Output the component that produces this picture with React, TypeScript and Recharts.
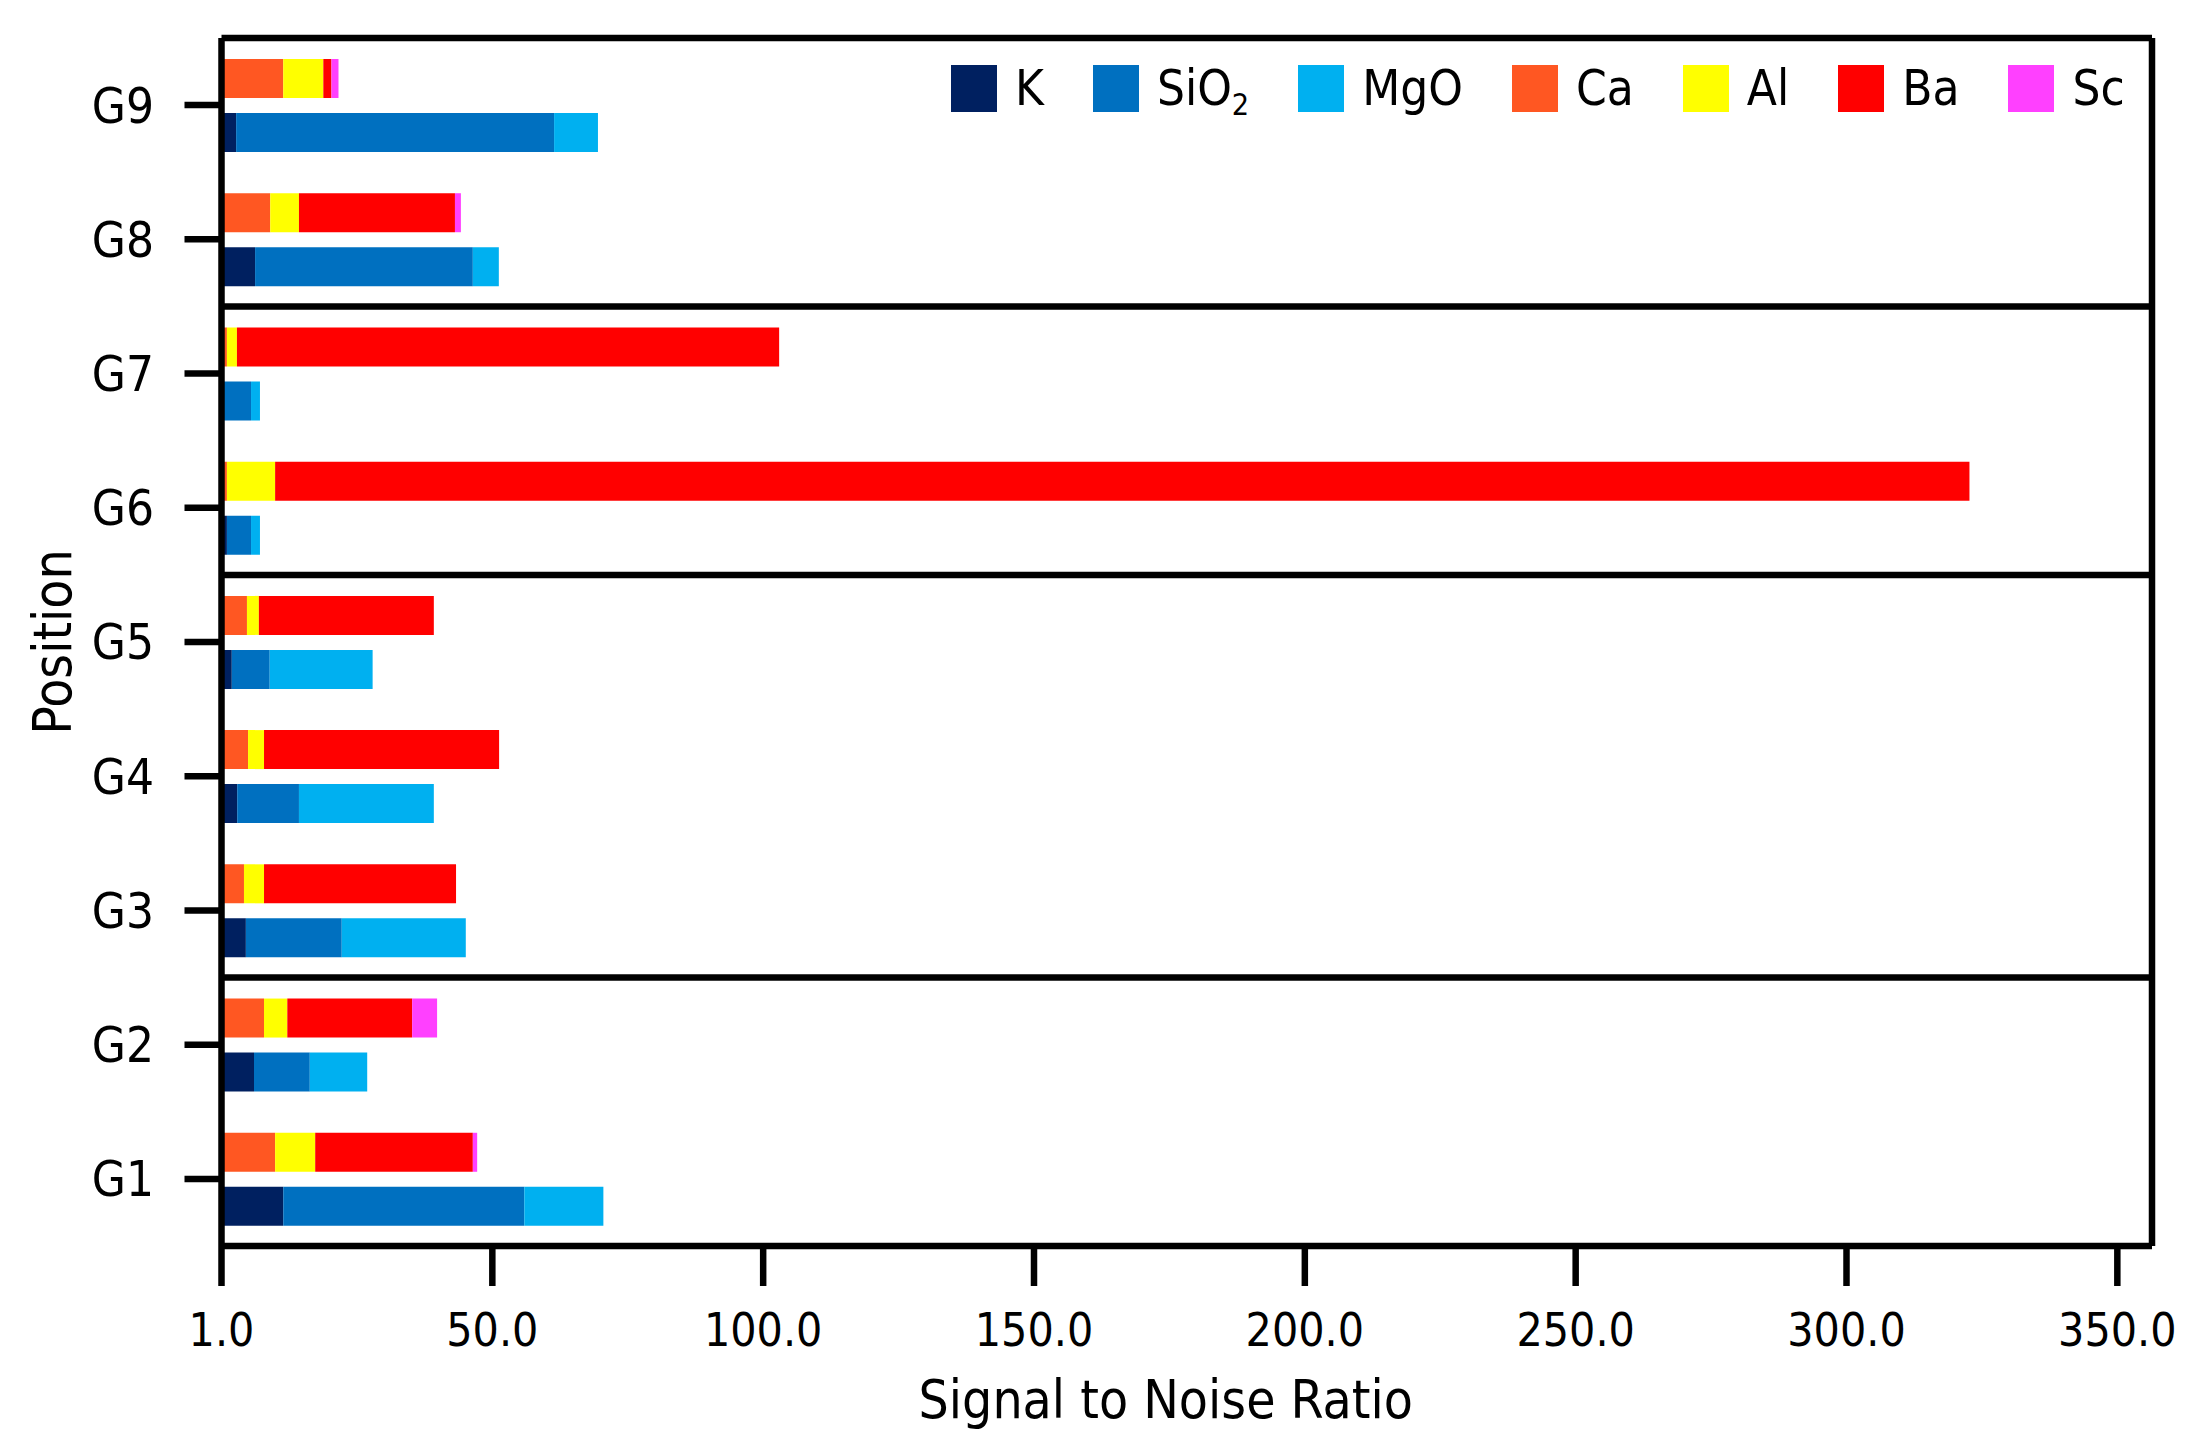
import { Bar, BarChart, CartesianGrid, Legend, XAxis, YAxis } from "recharts";

// positions, bottom to top
const positions = ["G1", "G2", "G3", "G4", "G5", "G6", "G7", "G8", "G9"];

// lower bar of each position
const kValues = [11.4, 6.0, 4.5, 2.9, 1.9, 1.0, 0.4, 6.2, 2.7];
const sio2Values = [44.5, 10.3, 17.7, 11.4, 7.0, 4.45, 5.05, 40.2, 58.7];
const mgoValues = [14.6, 10.6, 22.9, 24.9, 19.0, 1.65, 1.65, 4.8, 8.1];

// upper bar of each position
const caValues = [9.9, 7.85, 4.15, 4.9, 4.7, 1.0, 1.0, 9.0, 11.4];
const alValues = [7.4, 4.3, 3.7, 2.95, 2.2, 8.9, 1.85, 5.3, 7.4];
const baValues = [29.1, 23.05, 35.45, 43.4, 32.3, 312.8, 100.1, 28.8, 1.5];
const scValues = [0.8, 4.6, 0, 0, 0, 0, 0, 1.1, 1.3];

const xTicks = [0, 50, 100, 150, 200, 250, 300, 350];
const xMax = 356.4;

// top position of each group that has another group above it
const groupTops = ["G2", "G5", "G7"];

const colors: Record<string, string> = {
  K: "#002060",
  SiO2: "#0070C0",
  MgO: "#00B0F0",
  Ca: "#FF5722",
  Al: "#FFFF00",
  Ba: "#FF0000",
  Sc: "#FF40FF",
};

const legendOrder = ["K", "SiO2", "MgO", "Ca", "Al", "Ba", "Sc"];

// first stack declared is drawn on top within each band
const series = [
  { key: "Ca", stack: "upper", values: caValues },
  { key: "Al", stack: "upper", values: alValues },
  { key: "Ba", stack: "upper", values: baValues },
  { key: "Sc", stack: "upper", values: scValues },
  { key: "K", stack: "lower", values: kValues },
  { key: "SiO2", stack: "lower", values: sio2Values },
  { key: "MgO", stack: "lower", values: mgoValues },
];

const rows = positions.map((position, i) => {
  const row: Record<string, string | number> = { position };
  series.forEach((s) => {
    row[s.key] = s.values[i];
  });
  return row;
});

const font = "'DejaVu Sans Condensed', 'DejaVu Sans', sans-serif";
const lineW = 6.5;
const black = "#000";

// top edge of a category band
function bandTop(yAxis: any, offset: any, cat: string) {
  const s = yAxis && yAxis.scale;
  let v: any;
  if (typeof s === "function") v = s(cat);
  else if (s && typeof s.map === "function") v = s.map(cat);
  if (typeof v === "number" && !Number.isNaN(v)) return v;
  const band = offset.height / positions.length;
  return offset.top + (positions.length - 1 - positions.indexOf(cat)) * band;
}

function formatName(name: string) {
  if (name === "SiO2") {
    return (
      <>
        SiO
        <sub style={{ fontSize: "0.62em", verticalAlign: "-0.32em", lineHeight: 0 }}>2</sub>
      </>
    );
  }
  return name;
}

function LegendContent() {
  return (
    <div
      style={{
        display: "flex",
        alignItems: "center",
        fontFamily: font,
        fontSize: 49,
        color: black,
        lineHeight: "47px",
        whiteSpace: "nowrap",
      }}
    >
      {legendOrder.map((name) => (
        <div key={name} style={{ display: "flex", alignItems: "center", marginRight: 49 }}>
          <div style={{ width: 46, height: 47, background: colors[name], marginRight: 18 }} />
          <span>{formatName(name)}</span>
        </div>
      ))}
    </div>
  );
}

function xTitle(props: any) {
  const vb = props.viewBox;
  return (
    <text
      x={vb.x + vb.width / 2 - 21}
      y={vb.y + 172}
      textAnchor="middle"
      fontFamily={font}
      fontSize={53}
      fill={black}
    >
      Signal to Noise Ratio
    </text>
  );
}

function yTitle(props: any) {
  const vb = props.viewBox;
  const x = vb.x + 71;
  const y = vb.y + vb.height / 2;
  return (
    <text
      x={x}
      y={y}
      transform={`rotate(-90 ${x} ${y})`}
      textAnchor="middle"
      fontFamily={font}
      fontSize={53}
      fill={black}
    >
      Position
    </text>
  );
}

export default function App() {
  return (
    <div style={{ position: "absolute", left: 0, top: 0, width: 2205, height: 1455, background: "#fff" }}>
      <BarChart
        width={2205}
        height={1455}
        data={rows}
        layout="vertical"
        margin={{ top: 38, right: 53, bottom: 0, left: 0 }}
        barSize={39}
        barGap={15}
        style={{ fontFamily: font }}
      >
        <CartesianGrid
          stroke={black}
          strokeWidth={lineW}
          horizontalCoordinatesGenerator={({ yAxis, offset }: any) => [
            offset.top,
            ...groupTops.map((cat) => bandTop(yAxis, offset, cat)),
          ]}
          verticalCoordinatesGenerator={({ offset }: any) => [offset.left + offset.width]}
        />
        <XAxis
          type="number"
          domain={[0, xMax]}
          ticks={xTicks}
          allowDataOverflow
          tickFormatter={(v: number) => (v === 0 ? "1.0" : v.toFixed(1))}
          height={209}
          tickSize={40}
          tickMargin={27}
          axisLine={{ stroke: black, strokeWidth: lineW }}
          tickLine={{ stroke: black, strokeWidth: lineW }}
          tick={{ fill: black, fontSize: 46, fontFamily: font }}
          label={xTitle}
        />
        <YAxis
          type="category"
          dataKey="position"
          reversed
          interval={0}
          width={221.5}
          tickSize={37}
          tickMargin={30.5}
          axisLine={{ stroke: black, strokeWidth: lineW }}
          tickLine={{ stroke: black, strokeWidth: lineW }}
          tick={{ fill: black, fontSize: 49, fontFamily: font }}
          label={yTitle}
        />
        {series.map((s) => (
          <Bar
            key={s.key}
            dataKey={s.key}
            stackId={s.stack}
            fill={colors[s.key]}
            isAnimationActive={false}
          />
        ))}
        <Legend
          layout="horizontal"
          verticalAlign="middle"
          align="center"
          content={<LegendContent />}
          wrapperStyle={{ top: 65, left: 951, width: "auto", height: 47 }}
        />
      </BarChart>
    </div>
  );
}
